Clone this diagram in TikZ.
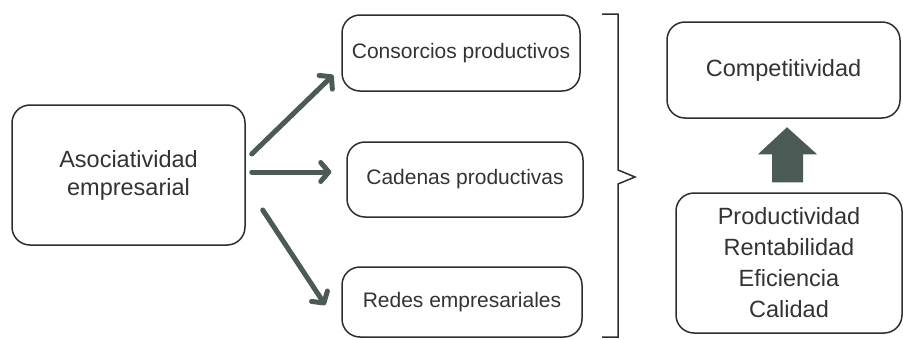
\documentclass[tikz,border=0pt]{standalone}
\usepackage{fontspec}
\setmainfont{Liberation Sans}
\usetikzlibrary{arrows.meta,calc}
\definecolor{txt}{HTML}{333333}
\definecolor{edge}{HTML}{2E2E2E}
\definecolor{arr}{HTML}{4B5A55}
\begin{document}
\begin{tikzpicture}[x=1pt,y=-1pt,
  box/.style={draw=edge,line width=1.5pt,rounded corners=18pt,text=txt,align=center,inner sep=0pt},
  small/.style={font=\fontsize{21}{25}\selectfont},
  big/.style={font=\fontsize{23.5}{28}\selectfont},
  conn/.style={draw=arr,line width=5pt,line cap=round,-{Straight Barb[length=8pt,width=19pt,round]}}]
\useasboundingbox (0,0) rectangle (903,340);
\node[box,big,minimum width=233pt,minimum height=140pt] (a) at (128.5,175) {Asociatividad\\empresarial};
\node[box,small,minimum width=238pt,minimum height=76pt] (c1) at (461,53) {Consorcios productivos};
\node[box,small,minimum width=236pt,minimum height=75pt] (c2) at (465,179.5) {Cadenas productivas};
\node[box,small,minimum width=240pt,minimum height=70pt] (c3) at (462,302) {Redes empresariales};
\node[box,big,minimum width=233pt,minimum height=96pt] (comp) at (783.5,70) {Competitividad};
\node[box,font=\fontsize{23.5}{31}\selectfont,minimum width=226pt,minimum height=140pt] (fac) at (789,263) {Productividad\\Rentabilidad\\Eficiencia\\Calidad};
\draw[conn] ($(a.east)+(6,-21)$) -- ($(c1.west)+(-8,22)$);
\draw[conn] ($(a.east)+(6,-3)$) -- ($(c2.west)+(-15,-7.5)$);
\draw[conn] ($(a.east)+(17,35)$) -- ($(c3.west)+(-16,3)$);
\draw[edge,line width=1.5pt] (602,14) -- (618,14) -- (618,170) -- (635,177) -- (618,184) -- (618,337) -- (602,337);
\fill[arr] ($(fac.north)+(-17,-10)$) -- ++(0,-28) -- ++(-14,0) -- ++(29,-27) -- ++(30,27) -- ++(-14,0) -- ++(0,28) -- cycle;
\end{tikzpicture}
\end{document}
